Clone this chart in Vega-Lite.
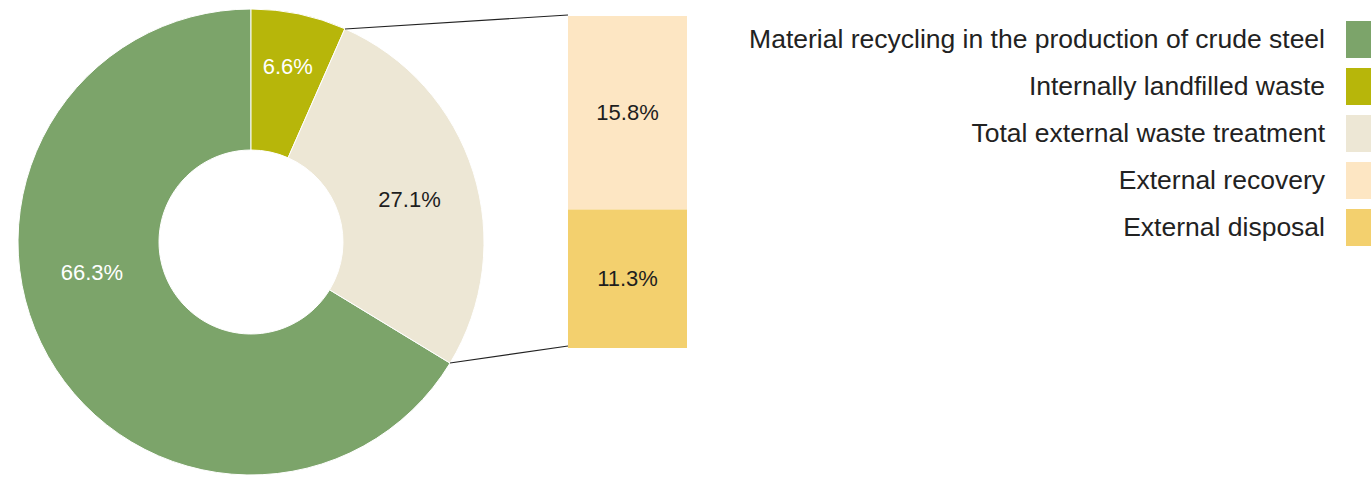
{
  "$schema": "https://vega.github.io/schema/vega-lite/v6.json",
  "autosize": "none",
  "width": 1371,
  "height": 470,
  "padding": {"top": 7, "bottom": 0, "left": 0, "right": 0},
  "background": "#ffffff",
  "config": {
    "view": {"stroke": null},
    "legend": {
      "title": null,
      "symbolType": "square",
      "symbolSize": 1369,
      "symbolStrokeWidth": 0,
      "symbolOpacity": 1,
      "labelAlign": "right",
      "labelOffset": -58,
      "labelFont": "Liberation Sans",
      "labelFontSize": 26.5,
      "labelColor": "#222222",
      "labelLimit": 1000,
      "rowPadding": 10,
      "padding": 0
    }
  },
  "data": {
    "values": [
      {"group": "Overall", "category": "Material recycling in the production of crude steel", "value": 0.663},
      {"group": "Overall", "category": "Internally landfilled waste", "value": 0.066},
      {"group": "Overall", "category": "Total external waste treatment", "value": 0.271},
      {"group": "External", "category": "External recovery", "value": 0.158},
      {"group": "External", "category": "External disposal", "value": 0.113}
    ]
  },
  "layer": [
    {
      "transform": [{"filter": "datum.group === 'Overall'"}],
      "encoding": {
        "x": {"field": "group", "type": "nominal", "axis": null, "scale": {"type": "band", "domain": ["Overall", "External"], "range": [62.75, 815.75], "paddingInner": 0, "paddingOuter": 0}},
        "theta": {"field": "value", "type": "quantitative", "stack": true},
        "order": {"field": "value", "sort": "ascending"}
      },
      "layer": [
        {
          "mark": {"type": "arc", "innerRadius": 92, "outerRadius": 233, "stroke": "#ffffff", "strokeWidth": 1},
          "encoding": {
            "color": {
              "field": "category", "type": "nominal",
              "scale": {
                "domain": ["Material recycling in the production of crude steel", "Internally landfilled waste", "Total external waste treatment", "External recovery", "External disposal"],
                "range": ["#7ca46a", "#b7b60a", "#ede7d5", "#fde6c3", "#f3d06e"]
              },
              "legend": {"orient": "none", "legendX": 1346, "legendY": 14}
            }
          }
        },
        {
          "mark": {"type": "text", "radius": 179, "font": "Liberation Sans", "fontSize": 22, "color": "#ffffff"},
          "encoding": {
            "detail": {"field": "category", "type": "nominal"},
            "text": {"condition": {"test": "datum.category === 'Internally landfilled waste'", "field": "value", "type": "quantitative", "format": ".1%"}, "value": ""}
          }
        },
        {
          "mark": {"type": "text", "radius": 164, "thetaOffset": 0.045, "font": "Liberation Sans", "fontSize": 22, "color": "#1e1e1e"},
          "encoding": {
            "detail": {"field": "category", "type": "nominal"},
            "text": {"condition": {"test": "datum.category === 'Total external waste treatment'", "field": "value", "type": "quantitative", "format": ".1%"}, "value": ""}
          }
        },
        {
          "mark": {"type": "text", "radius": 162, "thetaOffset": 0.322, "font": "Liberation Sans", "fontSize": 22, "color": "#ffffff"},
          "encoding": {
            "detail": {"field": "category", "type": "nominal"},
            "text": {"condition": {"test": "datum.category === 'Material recycling in the production of crude steel'", "field": "value", "type": "quantitative", "format": ".1%"}, "value": ""}
          }
        }
      ]
    },
    {
      "transform": [{"filter": "datum.group === 'External'"}],
      "mark": {"type": "bar", "width": 119},
      "encoding": {
        "x": {"field": "group", "type": "nominal", "axis": null},
        "y": {"field": "value", "type": "quantitative", "stack": "zero", "axis": null, "scale": {"domain": [0, 0.271], "range": [9, 341], "nice": false, "zero": false}},
        "order": {"field": "value", "sort": "descending"},
        "color": {
          "field": "category", "type": "nominal",
          "legend": {"orient": "none", "legendX": 1346, "legendY": 14}
        }
      }
    },
    {
      "transform": [
        {"filter": "datum.group === 'External'"},
        {"stack": "value", "groupby": ["group"], "sort": [{"field": "value", "order": "descending"}], "as": ["v0", "v1"]},
        {"fold": ["v0", "v1"], "as": ["edge", "pos"]},
        {"aggregate": [{"op": "mean", "field": "pos", "as": "mid"}, {"op": "max", "field": "value", "as": "value"}], "groupby": ["group", "category"]}
      ],
      "mark": {"type": "text", "font": "Liberation Sans", "fontSize": 22, "color": "#1e1e1e"},
      "encoding": {
        "x": {"field": "group", "type": "nominal", "axis": null},
        "y": {"field": "mid", "type": "quantitative", "axis": null},
        "text": {"field": "value", "type": "quantitative", "format": ".1%"}
      }
    },
    {
      "data": {"values": [{"link": "top"}]},
      "mark": {"type": "rule", "color": "#222222", "strokeWidth": 1.2, "xOffset": 94, "x2Offset": -59.5, "yOffset": 13, "y2Offset": -1},
      "encoding": {
        "x": {"datum": "Overall"},
        "x2": {"datum": "External"},
        "y": {"datum": 0},
        "y2": {"datum": 0}
      }
    },
    {
      "data": {"values": [{"link": "bottom"}]},
      "mark": {"type": "rule", "color": "#222222", "strokeWidth": 1.2, "xOffset": 199, "x2Offset": -59.5, "yOffset": 15, "y2Offset": -2},
      "encoding": {
        "x": {"datum": "Overall"},
        "x2": {"datum": "External"},
        "y": {"datum": 0.271},
        "y2": {"datum": 0.271}
      }
    }
  ]
}
